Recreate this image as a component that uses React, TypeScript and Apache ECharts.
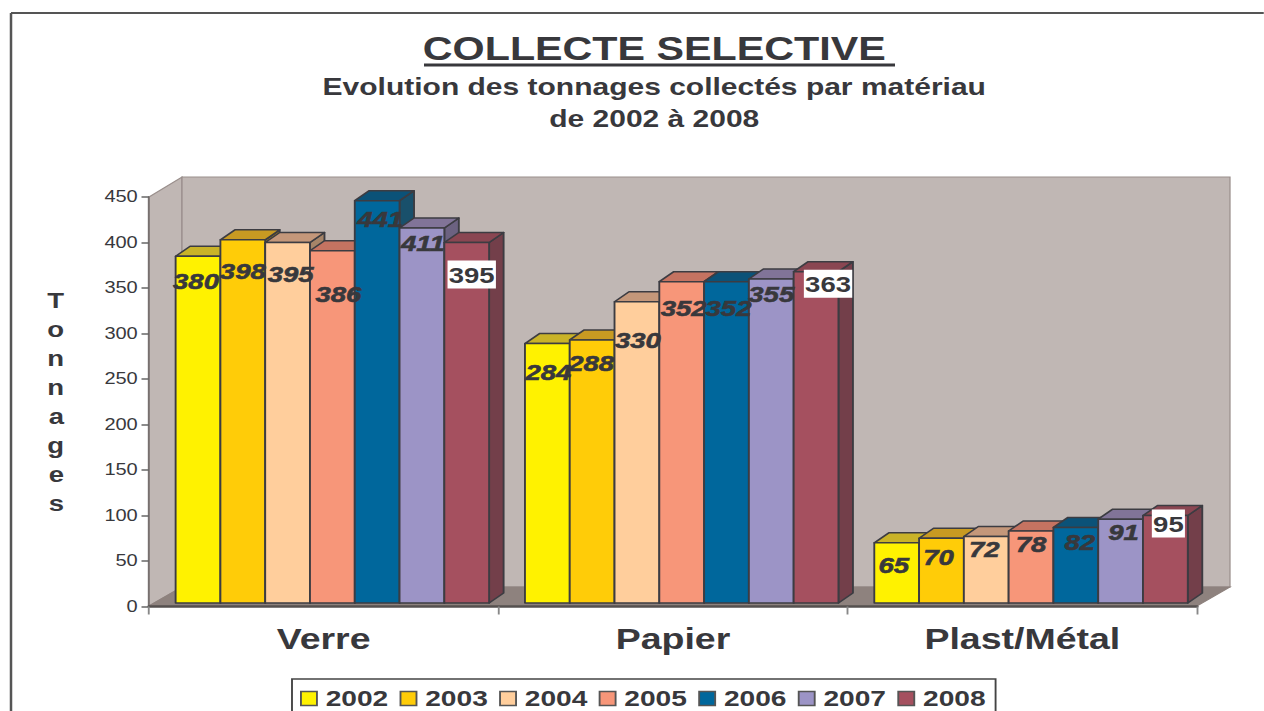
import React, { useEffect, useRef } from "react";
import * as echarts from "echarts";

const titleText = "COLLECTE SELECTIVE";
const subtitleText = "Evolution des tonnages collectés par matériau\nde 2002 à 2008";
const yAxisName = "T\no\nn\nn\na\ng\ne\ns";
const categories = ["Verre", "Papier", "Plast/Métal"];
const years = ["2002", "2003", "2004", "2005", "2006", "2007", "2008"];

const v2002 = [380, 284, 65];
const v2003 = [398, 288, 70];
const v2004 = [395, 330, 72];
const v2005 = [386, 352, 78];
const v2006 = [441, 352, 82];
const v2007 = [411, 355, 91];
const v2008 = [395, 363, 95];
const values = [v2002, v2003, v2004, v2005, v2006, v2007, v2008];

const frontColors = ["#FFF200", "#FFCC08", "#FFCE9C", "#F79679", "#00679C", "#9C94C6", "#A5505F"];
const topColors = ["#C9B328", "#C89A22", "#C4977A", "#C57361", "#0B5278", "#817498", "#8A4652"];
const sideColors = ["#A89A20", "#A8821C", "#A68468", "#A66050", "#19506B", "#6C6281", "#733F4A"];

// Layout only: where each value label sits relative to its bar (px, per year then category).
const labelDrop = [
  [25, 28, 22],
  [31, 23, 19],
  [31, 38, 13],
  [43, 26, 13],
  [18, 26, 15],
  [15, 15, 13],
  [32, 12, 8],
];
const labelShift = [
  [-2, 1, -3],
  [0, -1, -3],
  [3, 1, -2],
  [6, 2, 0],
  [3, 2, 4],
  [1, 0, 3],
  [5, 12, 3],
];

// The reference is a picture stretched sideways: the whole chart is drawn narrower and widened.
const K = 1.25;
const X = (px: number) => px / K;
const FONT = "'Liberation Sans', Arial, sans-serif";
const INK = "#38383C";

const wall = "#C0B7B4";
const wallEdge = "#9A8F8C";
const floor = "#8E827E";

const polygon = (pts: number[][], fill: string, stroke: string, lineWidth = 1) => ({
  type: "polygon",
  z: 0,
  silent: true,
  shape: { points: pts.map(([x, y]) => [X(x), y]) },
  style: { fill, stroke, lineWidth },
});
const line = (x1: number, y1: number, x2: number, y2: number, stroke: string, lineWidth: number) => ({
  type: "line",
  z: 0,
  silent: true,
  shape: { x1: X(x1), y1, x2: X(x2), y2 },
  style: { stroke, lineWidth },
});

const makeBars = (yearIdx: number) => (_params: any, api: any) => {
  const cat = api.value(0);
  const val = api.value(1);
  const top = api.coord([cat, val]);
  const base = api.coord([cat, 0]);
  const band = api.size([1, 0])[0];
  const w = band * 0.1282;
  const depthX = X(14.5);
  const depthY = 10;
  const left = top[0] + X(8.7) + (yearIdx - 3.5) * w;
  const right = left + w;
  const y1 = base[1] - 3.5;
  const y0 = top[1] - 4.5;
  const stroke = "#3C3C42";
  const common = (fill: string) => ({
    fill,
    stroke,
    lineWidth: 1.5,
    lineJoin: "round",
  });
  const isLast = yearIdx === years.length - 1;
  return {
    type: "group",
    children: [
      {
        type: "polygon",
        z2: yearIdx,
        shape: { points: [[right, y1], [right + depthX, y1 - depthY], [right + depthX, y0 - depthY], [right, y0]] },
        style: common(sideColors[yearIdx]),
      },
      {
        type: "polygon",
        z2: yearIdx,
        shape: { points: [[left, y0], [left + depthX, y0 - depthY], [right + depthX, y0 - depthY], [right, y0]] },
        style: common(topColors[yearIdx]),
      },
      {
        type: "rect",
        z2: yearIdx,
        shape: { x: left, y: y0, width: w, height: y1 - y0 },
        style: common(frontColors[yearIdx]),
      },
      {
        type: "text",
        z2: 100,
        x: left + w / 2 + X(labelShift[yearIdx][cat]),
        y: y0 + labelDrop[yearIdx][cat],
        style: {
          text: String(val),
          fill: INK,
          stroke: isLast ? undefined : INK,
          lineWidth: isLast ? 0 : 0.6,
          align: "center",
          verticalAlign: "middle",
          fontFamily: FONT,
          fontWeight: "bold",
          fontStyle: isLast ? "normal" : "italic",
          fontSize: 22,
          backgroundColor: isLast ? "#FFFFFF" : undefined,
          padding: isLast ? [3, 1, 3, 1] : 0,
        },
      },
    ],
  };
};

export default function App() {
  const ref = useRef<HTMLDivElement>(null);
  useEffect(() => {
    if (!ref.current) return;
    const chart = echarts.init(ref.current, undefined, { renderer: "svg" });
    chart.setOption({
      animation: false,
      backgroundColor: "#FFFFFF",
      title: {
        text: titleText,
        subtext: subtitleText,
        left: X(648),
        top: 27,
        textAlign: "center",
        itemGap: 6,
        textStyle: { fontFamily: FONT, fontWeight: "bold", fontSize: 33, color: INK },
        subtextStyle: { fontFamily: FONT, fontWeight: "bold", fontSize: 24, lineHeight: 32, color: INK, align: "center" },
      },
      legend: {
        data: years,
        left: X(292),
        top: 679,
        icon: "rect",
        itemWidth: X(16),
        itemHeight: 14,
        itemGap: X(11.3),
        padding: [8, X(10), 12, X(8)],
        borderColor: "#444",
        borderWidth: 1.5,
        backgroundColor: "#FFFFFF",
        selectedMode: false,
        itemStyle: { borderColor: "#555", borderWidth: 1.5 },
        textStyle: { fontFamily: FONT, fontWeight: "bold", fontSize: 22.5, color: INK, padding: [0, 0, 0, 2] },
      },
      grid: { left: X(149), width: X(1048), top: 197, height: 409.5 },
      xAxis: {
        type: "category",
        data: categories,
        z: 1,
        axisLine: { lineStyle: { color: "#55504F", width: 2.5 } },
        axisTick: { show: true, alignWithLabel: false, length: 8, lineStyle: { color: "#888", width: 1.5 } },
        axisLabel: { fontFamily: FONT, fontWeight: "bold", fontSize: 30, color: INK, margin: 17 },
      },
      yAxis: {
        type: "value",
        min: 0,
        max: 450,
        interval: 50,
        z: 1,
        name: yAxisName,
        nameLocation: "middle",
        nameGap: X(85),
        nameRotate: 0,
        nameTextStyle: { fontFamily: FONT, fontWeight: "bold", fontSize: 22, lineHeight: 29, color: INK, padding: [6, 0, 0, 0] },
        splitLine: { show: false },
        axisLine: { show: true, lineStyle: { color: "#77706F", width: 1.5 } },
        axisTick: { show: true, length: 6, lineStyle: { color: "#666", width: 1.5 } },
        axisLabel: { fontFamily: FONT, fontSize: 16, color: INK, margin: 9, padding: [2, 0, 0, 0] },
      },
      graphic: [
        line(11, 13, 1264, 13, "#555", 2),
        line(11, 13, 11, 711, "#555", 2),
        line(424, 65, 895, 65, INK, 3),
        polygon([[149, 197], [182, 177], [182, 587], [149, 606]], wall, wallEdge),
        polygon([[182, 177], [1230, 177], [1230, 587], [182, 587]], wall, wallEdge),
        polygon([[149, 606], [182, 587], [1230, 587], [1197, 606]], floor, floor),
      ],
      series: years.map((year, i) => ({
        type: "custom",
        name: year,
        coordinateSystem: "cartesian2d",
        itemStyle: { color: frontColors[i] },
        encode: { x: 0, y: 1 },
        data: values[i].map((v, c) => [c, v]),
        renderItem: makeBars(i),
        clip: false,
      })),
    });
    return () => chart.dispose();
  }, []);
  return (
    <div
      ref={ref}
      style={{
        position: "absolute",
        left: 0,
        top: 0,
        width: 1264 / K,
        height: 711,
        transform: `scaleX(${K})`,
        transformOrigin: "left top",
      }}
    />
  );
}
